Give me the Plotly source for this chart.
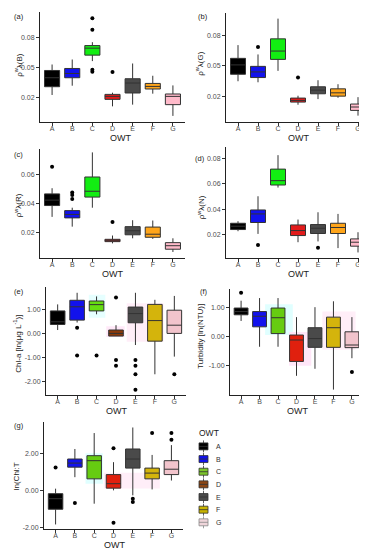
import plotly.graph_objects as go

OWT = ["A", "B", "C", "D", "E", "F", "G"]

# ---- panel (a) rho_w(B)
a_lo = [0.0227, 0.032, 0.0567, 0.0113, 0.013, 0.024, 0.0017]
a_q1 = [0.031, 0.040, 0.0627, 0.0183, 0.0247, 0.0287, 0.013]
a_med = [0.040, 0.0443, 0.0697, 0.0213, 0.0347, 0.0313, 0.0213]
a_q3 = [0.0473, 0.0493, 0.0723, 0.0233, 0.039, 0.0343, 0.0237]
a_hi = [0.0533, 0.0583, 0.0757, 0.025, 0.0543, 0.042, 0.0323]
a_out_x = ["C", "C", "C", "C", "D"]
a_out_y = [0.0997, 0.0883, 0.048, 0.046, 0.0457]

# ---- panel (b) rho_w(G)
b_lo = [0.0351, 0.0341, 0.0452, 0.0122, 0.0177, 0.019, 0.0016]
b_q1 = [0.0419, 0.0387, 0.0564, 0.0148, 0.0229, 0.0206, 0.0067]
b_med = [0.051, 0.0442, 0.0645, 0.0164, 0.0264, 0.0238, 0.010]
b_q3 = [0.0574, 0.0496, 0.0764, 0.0187, 0.0297, 0.0277, 0.0129]
b_hi = [0.0703, 0.0612, 0.0961, 0.021, 0.0361, 0.0322, 0.0196]
b_out_x = ["B", "D"]
b_out_y = [0.0684, 0.0387]

# ---- panel (c) rho_w(R)
c_lo = [0.0307, 0.024, 0.037, 0.0125, 0.016, 0.0156, 0.0066]
c_q1 = [0.0385, 0.030, 0.0443, 0.0137, 0.0184, 0.0167, 0.0085]
c_med = [0.0422, 0.0324, 0.0483, 0.0146, 0.0212, 0.0188, 0.0109]
c_q3 = [0.0465, 0.035, 0.0581, 0.0153, 0.024, 0.0237, 0.013]
c_hi = [0.0504, 0.037, 0.075, 0.0179, 0.0284, 0.0282, 0.016]
c_out_x = ["A", "B", "B", "B", "D"]
c_out_y = [0.0652, 0.0474, 0.0457, 0.0429, 0.0272]

# ---- panel (d) rho_w(N)
d_lo = [0.0229, 0.0208, 0.057, 0.0143, 0.0149, 0.0097, 0.0063]
d_q1 = [0.0242, 0.0297, 0.059, 0.0195, 0.0211, 0.0211, 0.0112]
d_med = [0.0268, 0.0364, 0.0624, 0.0234, 0.0252, 0.0258, 0.0143]
d_q3 = [0.0291, 0.0395, 0.0714, 0.0278, 0.0281, 0.0291, 0.0169]
d_hi = [0.0307, 0.0502, 0.0823, 0.032, 0.0377, 0.0364, 0.0221]
d_out_x = ["B", "E"]
d_out_y = [0.0122, 0.0099]

# ---- panel (e) Chl-a
e_lo = [0.14, 0.45, 0.79, -0.11, -0.48, -1.69, -0.96]
e_q1 = [0.37, 0.55, 0.93, -0.11, 0.44, -0.32, 0.0]
e_med = [0.48, 1.1, 1.19, 0.0, 0.82, 0.53, 0.34]
e_q3 = [0.93, 1.37, 1.34, 0.14, 1.09, 1.2, 0.96]
e_hi = [1.2, 1.68, 1.53, 0.34, 1.68, 1.39, 1.55]
e_out_x = ["B", "B", "C", "D", "D", "D", "E", "E", "E", "E", "G"]
e_out_y = [0.23, -0.91, -0.91, 1.48, -1.1, -1.34, -1.1, -1.34, -1.69, -2.33, -1.69]

# ---- panel (f) Turbidity
f_lo = [0.53, -0.35, -0.35, -1.34, -1.1, -1.81, -0.74]
f_q1 = [0.74, 0.33, 0.1, -0.85, -0.37, -0.37, -0.38]
f_med = [0.85, 0.69, 0.64, -0.12, -0.07, 0.3, -0.29]
f_q3 = [0.97, 0.85, 0.97, 0.05, 0.30, 0.66, 0.16]
f_hi = [1.22, 1.31, 1.31, 0.66, 1.0, 1.2, 0.66]
f_out_x = ["A", "G"]
f_out_y = [1.49, -1.21]

# ---- panel (g) ln(Chl:T)
g_lo = [-1.84, 0.71, -0.72, 0.0, -0.27, 0.05, 0.53]
g_q1 = [-1.02, 1.25, 0.62, 0.12, 1.2, 0.62, 0.85]
g_med = [-0.45, 1.47, 1.6, 0.36, 1.69, 0.93, 1.14]
g_q3 = [-0.18, 1.69, 1.87, 0.85, 2.23, 1.2, 1.6]
g_hi = [0.09, 2.23, 3.09, 1.52, 3.39, 1.91, 2.44]
g_out_x = ["A", "B", "D", "D", "E", "E", "F", "G", "G"]
g_out_y = [1.23, -0.68, 2.27, -1.75, -0.45, -0.63, 3.09, 3.09, 2.73]

COL_TOP = ["#000000", "#1212EC", "#12EE12", "#E21B1B", "#4A4A4A", "#FFA51A", "#FFBACA"]
COL_E = ["#000000", "#1212EC", "#66DD11", "#8B3A0A", "#4A4A4A", "#D4B40C", "#F2C4CC"]
COL_FG = ["#000000", "#1212EC", "#66CC11", "#E0200E", "#4A4A4A", "#D4B40C", "#F2C4CC"]
LEGEND_COL = ["#000000", "#1212EC", "#7CC52A", "#8B4513", "#4A4A4A", "#C8B400", "#EFD5DA"]

W, H = 367, 550

def px_x(p):
    return p / W

def px_y(p):
    return 1 - p / H

panels = [
    ("(a)", a_lo, a_q1, a_med, a_q3, a_hi, a_out_x, a_out_y, COL_TOP, (32, 177), (4, 114), [-0.004, 0.106],
     [0.02, 0.05, 0.08], ["0.02", "0.05", "0.08"], "ρ<sup>w</sup>λ(B)", (10, 57), (112, 130), (4, 9)),
    ("(b)", b_lo, b_q1, b_med, b_q3, b_hi, b_out_x, b_out_y, COL_TOP, (218, 362), (5, 114), [-0.0042, 0.1016],
     [0.02, 0.05, 0.08], ["0.02", "0.05", "0.08"], "ρ<sup>w</sup>λ(G)", (191, 56), (290, 130), (188, 9)),
    ("(c)", c_lo, c_q1, c_med, c_q3, c_hi, c_out_x, c_out_y, COL_TOP, (32, 177), (142, 251), [0.0024, 0.077],
     [0.02, 0.04, 0.06], ["0.02", "0.04", "0.06"], "ρ<sup>w</sup>λ(R)", (10, 198), (104, 267), (4, 147)),
    ("(d)", d_lo, d_q1, d_med, d_q3, d_hi, d_out_x, d_out_y, COL_TOP, (218, 362), (140, 251), [0.0019, 0.0883],
     [0.02, 0.04, 0.06, 0.08], ["0.02", "0.04", "0.06", "0.08"], "ρ<sup>w</sup>λ(N)", (193, 200), (290, 267), (185, 151)),
    ("(e)", e_lo, e_q1, e_med, e_q3, e_hi, e_out_x, e_out_y, COL_E, (38, 178), (280, 388), [-2.53, 1.92],
     [-2, -1, 0, 1], ["-2.00", "-1.00", "0.00", "1.00"], "Chl-a [ln(μg L<sup>-1</sup>)]", (9, 337), (108, 404), (4, 285)),
    ("(f)", f_lo, f_q1, f_med, f_q3, f_hi, f_out_x, f_out_y, COL_FG, (222, 355), (282, 388), [-1.98, 1.62],
     [-1, 0, 1], ["-1.00", "0.00", "1.00"], "Turbidity [ln(NTU)]", (193, 330), (289, 404), (190, 285)),
    ("(g)", g_lo, g_q1, g_med, g_q3, g_hi, g_out_x, g_out_y, COL_FG, (36, 175), (416, 523), [-2.09, 3.66],
     [-2, 0, 2], ["-2.00", "0.00", "2.00"], "ln(Chl:T", (8, 470), (106, 539), (4, 419)),
]

fig = go.Figure()
layout = {}
annotations = []
shapes = []
FONT = "Liberation Sans, Arial, sans-serif"

for i, p in enumerate(panels, start=1):
    (lab, lo, q1, med, q3, hi, ox, oy, cols, xd, yd, yr, tv, tt, ytit, ytp, xtp, lp) = p
    xa = "x" if i == 1 else f"x{i}"
    ya = "y" if i == 1 else f"y{i}"
    for j, cat in enumerate(OWT):
        fig.add_trace(go.Box(
            x=[cat], q1=[q1[j]], median=[med[j]], q3=[q3[j]],
            lowerfence=[lo[j]], upperfence=[hi[j]],
            name=cat, showlegend=False,
            fillcolor=cols[j], line=dict(color="#333333", width=1),
            whiskerwidth=0, width=0.75, boxpoints=False,
            xaxis=xa, yaxis=ya, hoverinfo="skip",
        ))
    fig.add_trace(go.Scatter(
        x=ox, y=oy, mode="markers", showlegend=False,
        marker=dict(color="black", size=4), xaxis=xa, yaxis=ya, hoverinfo="skip",
    ))
    xkey = "xaxis" if i == 1 else f"xaxis{i}"
    ykey = "yaxis" if i == 1 else f"yaxis{i}"
    layout[xkey] = dict(
        domain=[px_x(xd[0]), px_x(xd[1])], anchor=ya, type="category",
        categoryorder="array", categoryarray=OWT, range=[-0.6, 6.6],
        showline=True, linecolor="#222222", linewidth=1, ticks="outside",
        ticklen=3, tickcolor="#333333", showgrid=False, zeroline=False,
        ticklabelstandoff=-3,
        tickfont=dict(size=7, color="#4D4D4D", family=FONT),
    )
    layout[ykey] = dict(
        domain=[px_y(yd[1]), px_y(yd[0])], anchor=xa, range=yr,
        tickvals=tv, ticktext=tt, showline=True, linecolor="#222222", linewidth=1,
        ticks="outside", ticklen=3, tickcolor="#333333", showgrid=False, zeroline=False,
        tickfont=dict(size=7, color="#4D4D4D", family=FONT),
    )
    annotations.append(dict(
        text=ytit, x=px_x(ytp[0]), y=px_y(ytp[1]), xref="paper", yref="paper",
        textangle=-90, showarrow=False, xanchor="center", yanchor="middle",
        font=dict(size=8, color="#1A1A1A", family=FONT),
    ))
    annotations.append(dict(
        text="OWT", x=px_x(xtp[0]), y=px_y(xtp[1]), xref="paper", yref="paper",
        showarrow=False, xanchor="center", yanchor="middle", borderpad=0,
        font=dict(size=9, color="#1A1A1A", family=FONT),
    ))
    annotations.append(dict(
        text=lab, x=px_x(lp[0]), y=px_y(lp[1]), xref="paper", yref="paper",
        showarrow=False, xanchor="left", yanchor="middle",
        font=dict(size=7.5, color="#1A1A1A", family=FONT),
    ))

# faint glow artefacts seen behind some boxes in panels e-g
glow = [
    ("x5", "y5", 1.6, 2.45, 0.65, 1.6, "#E6FFFF"),
    ("x5", "y5", 2.5, 3.45, -0.15, 0.3, "#FFE8F8"),
    ("x5", "y5", 3.55, 5.45, -0.35, 1.25, "#FFEEF8"),
    ("x6", "y6", 1.3, 2.8, 0.05, 1.1, "#E0FFFF"),
    ("x6", "y6", 2.6, 3.8, -1.0, 0.15, "#FFE6F8"),
    ("x6", "y6", 4.4, 6.2, -0.45, 0.85, "#FFEEF8"),
    ("x7", "y7", 1.55, 2.45, 0.35, 2.0, "#E0FFFF"),
    ("x7", "y7", 2.5, 5.4, 0.1, 0.95, "#FFEEF8"),
]
for xr, yr_, x0, x1, y0, y1, c in glow:
    shapes.append(dict(type="rect", xref=xr, yref=yr_, x0=x0, x1=x1, y0=y0, y1=y1,
                       fillcolor=c, line=dict(width=0), layer="below"))

# compact ggplot-style legend (plotly's own legend rows are too tall here)
annotations.append(dict(
    text="OWT", x=px_x(189), y=px_y(427), xref="paper", yref="paper",
    showarrow=False, xanchor="left", yanchor="middle",
    font=dict(size=8.5, color="#1A1A1A", family=FONT),
))
for k, cat in enumerate(OWT):
    yc = 440 + k * 12.7
    edge = "#888888" if cat == "G" else "#333333"
    shapes.append(dict(type="line", xref="paper", yref="paper",
                       x0=px_x(195.5), x1=px_x(195.5), y0=px_y(yc - 6), y1=px_y(yc + 6),
                       line=dict(color=edge, width=0.8)))
    shapes.append(dict(type="rect", xref="paper", yref="paper",
                       x0=px_x(191), x1=px_x(200), y0=px_y(yc + 3.5), y1=px_y(yc - 3.5),
                       fillcolor=LEGEND_COL[k], line=dict(color=edge, width=0.8)))
    shapes.append(dict(type="line", xref="paper", yref="paper",
                       x0=px_x(191), x1=px_x(200), y0=px_y(yc), y1=px_y(yc),
                       line=dict(color=edge, width=0.8)))
    annotations.append(dict(
        text=cat, x=px_x(206), y=px_y(yc), xref="paper", yref="paper",
        showarrow=False, xanchor="left", yanchor="middle",
        font=dict(size=7, color="#333333", family=FONT),
    ))

fig.update_layout(
    width=W, height=H, margin=dict(l=0, r=0, t=0, b=0),
    paper_bgcolor="white", plot_bgcolor="white",
    boxmode="overlay", annotations=annotations, shapes=shapes,
    showlegend=False,
    font=dict(family=FONT),
    **layout,
)

fig.write_html("out.html")
